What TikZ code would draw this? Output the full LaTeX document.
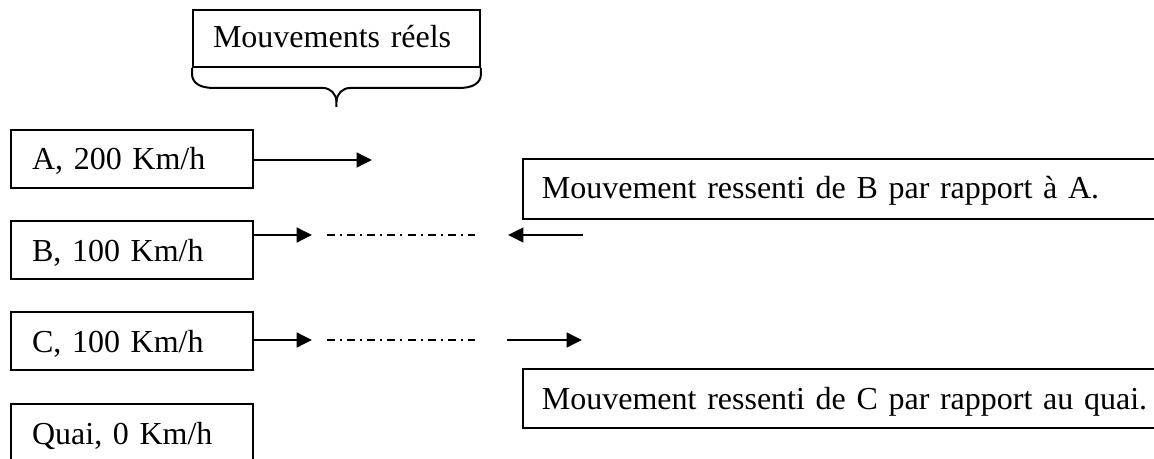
\documentclass[tikz,border=0pt]{standalone}
\usepackage{fontspec}
\setmainfont{Liberation Serif}
\usetikzlibrary{arrows.meta,calc}
% 12pt text with slightly tighter word spacing
\protected\def\boxfont{\fontsize{12}{14.4}\selectfont\spaceskip=2.4pt plus 1pt minus 0.5pt\relax}
\begin{document}
\begin{tikzpicture}[x=0.375pt,y=-0.375pt,
  every node/.style={font=\boxfont},
  box/.style={draw, line width=0.75pt, anchor=north west, align=left,
    inner ysep=0pt, inner xsep=7.9pt, text height=15pt, text depth=6.75pt},
  link/.style={line width=0.75pt},
  arr/.style={link, -{Triangle[length=5.8pt,width=5.6pt]}},
  dashdot/.style={link, dash pattern=on 3pt off 1.9pt on 0.75pt off 1.9pt}]
\useasboundingbox (0,0) rectangle (1154,459);
\clip (0,0) rectangle (1154,459);

% title box with its brace underneath
\node[box, text width=92.6pt, inner xsep=7.5pt, text height=14.25pt, text depth=7.1pt]
  (title) at (192,9) {Mouvements réels};
\draw[link] (title.south west)
  -- ($(title.south west)+(0,6)$)
  .. controls ($(title.south west)+(0,15)$) and ($(title.south west)+(8,20)$) .. ($(title.south west)+(21,20)$)
  -- ($(title.south)+(-14,20)$)
  .. controls ($(title.south)+(-6,20)$) and ($(title.south)+(0,26)$) .. ($(title.south)+(0,34)$)
  -- ($(title.south)+(0,39)$);
\draw[link] (title.south east)
  -- ($(title.south east)+(0,6)$)
  .. controls ($(title.south east)+(0,15)$) and ($(title.south east)+(-8,20)$) .. ($(title.south east)+(-21,20)$)
  -- ($(title.south)+(14,20)$)
  .. controls ($(title.south)+(6,20)$) and ($(title.south)+(0,26)$) .. ($(title.south)+(0,34)$);

% trains and platform
\node[box, text width=75pt] (A) at (10,129) {A, 200 Km/h};
\node[box, text width=75pt] (B) at (10,220) {B, 100 Km/h};
\node[box, text width=75pt] (C) at (10,311) {C, 100 Km/h};
\node[box, text width=75pt, text depth=30pt] (Q) at (10,403) {Quai, 0 Km/h};

% perceived motions
\node[box, text width=240pt, inner xsep=7.1pt, text depth=7.5pt] (rB) at (522,158)
  {Mouvement ressenti de B par rapport à A.};
\node[box, text width=240pt, inner xsep=7.1pt, text depth=7.125pt] (rC) at (522,368)
  {Mouvement ressenti de C par rapport au quai.};

% real movement arrows
\coordinate (aTip) at (372,160);
\draw[arr] (A.east |- aTip) -- (aTip);

\coordinate (bTip) at (312,235);
\draw[arr] (B.east |- bTip) -- (bTip);
\coordinate (bDashS) at (327,235);
\coordinate (bDashE) at (475,235);
\draw[dashdot] (bDashS) -- (bDashE);
\coordinate (bBackS) at (583,235);
\coordinate (bBackE) at (508,235);
\draw[arr] (bBackS) -- (bBackE);

\coordinate (cTip) at (312,340);
\draw[arr] (C.east |- cTip) -- (cTip);
\coordinate (cDashS) at (327,340);
\coordinate (cDashE) at (475,340);
\draw[dashdot] (cDashS) -- (cDashE);
\coordinate (cFwdS) at (507,340);
\coordinate (cFwdE) at (582,340);
\draw[arr] (cFwdS) -- (cFwdE);
\end{tikzpicture}
\end{document}
